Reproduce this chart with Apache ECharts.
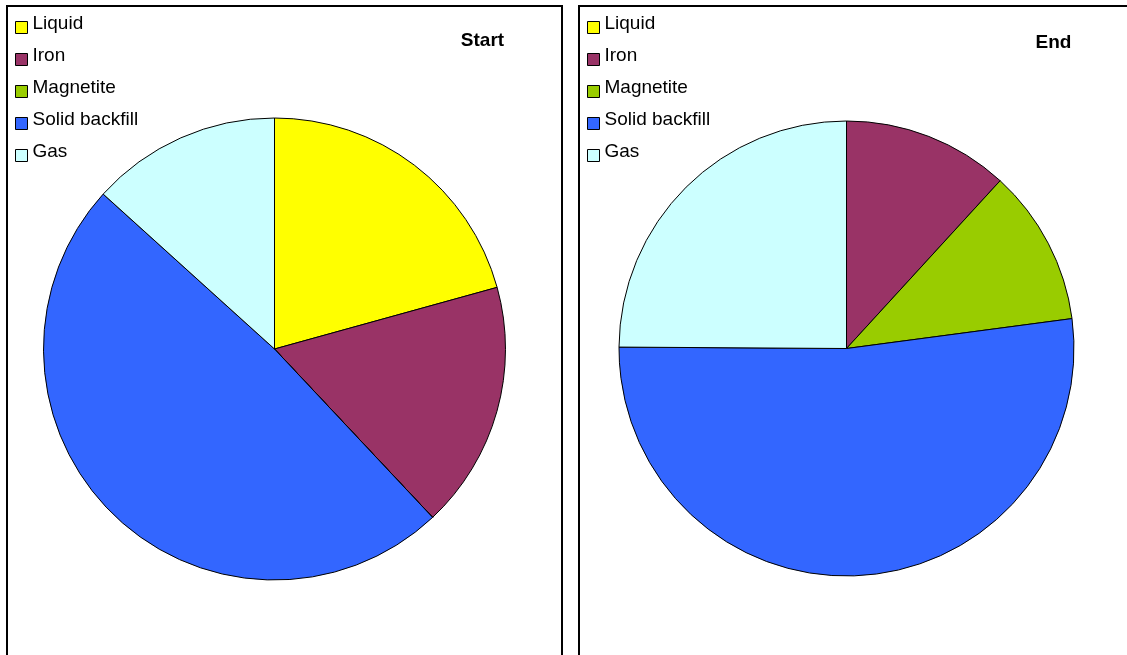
<!DOCTYPE html>
<html>
<head>
<meta charset="utf-8">
<title>Start / End composition</title>
<script src="https://cdn.jsdelivr.net/npm/echarts@6/dist/echarts.min.js"></script>
<style>
  html, body { margin: 0; padding: 0; background: #ffffff; }
  #chart { width: 1127px; height: 655px; }
</style>
</head>
<body>
<div id="chart"></div>
<script>
// Components, in legend order
const categories = ['Liquid', 'Iron', 'Magnetite', 'Solid backfill', 'Gas'];
const colors = ['#FFFF00', '#993366', '#99CC00', '#3366FF', '#CCFFFF'];

// Share of each component (%)
const startValues = [20.7, 17.3, 0, 48.7, 13.3];
const endValues = [0, 11.8, 11.1, 52.2, 24.9];

const panelTitles = ['Start', 'End'];

const FONT = '"Liberation Sans", Arial, sans-serif';

const chart = echarts.init(document.getElementById('chart'), null, { renderer: 'canvas' });

function pieData(values) {
  return categories.map((name, i) => ({
    name: name,
    value: values[i],
    itemStyle: { color: colors[i] }
  }));
}

function pieSeries(values, center, radius) {
  return {
    type: 'pie',
    center: center,
    radius: radius,
    startAngle: 90,
    clockwise: true,
    minAngle: 0,
    avoidLabelOverlap: false,
    silent: true,
    label: { show: false },
    labelLine: { show: false },
    emphasis: { disabled: true },
    itemStyle: { borderColor: '#000000', borderWidth: 1 },
    data: pieData(values)
  };
}

// Legend text sits a little above the middle of its swatch
function legendAt(left) {
  return {
    left: left,
    top: 12,
    padding: 0,
    orient: 'vertical',
    icon: 'rect',
    itemWidth: 12,
    itemHeight: 12,
    itemGap: 1,
    selectedMode: false,
    itemStyle: { borderColor: '#000000', borderWidth: 1 },
    formatter: '{t|{name}}',
    textStyle: {
      rich: {
        t: {
          fontFamily: FONT,
          fontSize: 19,
          color: '#000000',
          lineHeight: 19,
          padding: [2, 0, 10, 0]
        }
      }
    },
    data: categories
  };
}

chart.setOption({
  animation: false,
  backgroundColor: '#ffffff',
  graphic: [
    {
      type: 'rect',
      shape: { x: 7, y: 6, width: 555, height: 650 },
      style: { fill: 'none', stroke: '#000000', lineWidth: 2 },
      silent: true
    },
    {
      type: 'rect',
      shape: { x: 579, y: 6, width: 560, height: 650 },
      style: { fill: 'none', stroke: '#000000', lineWidth: 2 },
      silent: true
    },
    {
      type: 'text',
      x: 482.5, y: 41,
      style: { text: panelTitles[0], align: 'center', verticalAlign: 'middle', fill: '#000000',
        font: 'bold 19px ' + FONT },
      silent: true
    },
    {
      type: 'text',
      x: 1053.5, y: 42.5,
      style: { text: panelTitles[1], align: 'center', verticalAlign: 'middle', fill: '#000000',
        font: 'bold 19px ' + FONT },
      silent: true
    }
  ],
  legend: [legendAt(15), legendAt(587)],
  series: [
    pieSeries(startValues, [274.5, 349], 231),
    pieSeries(endValues, [846.5, 348.5], 227.5)
  ]
});
</script>
</body>
</html>
